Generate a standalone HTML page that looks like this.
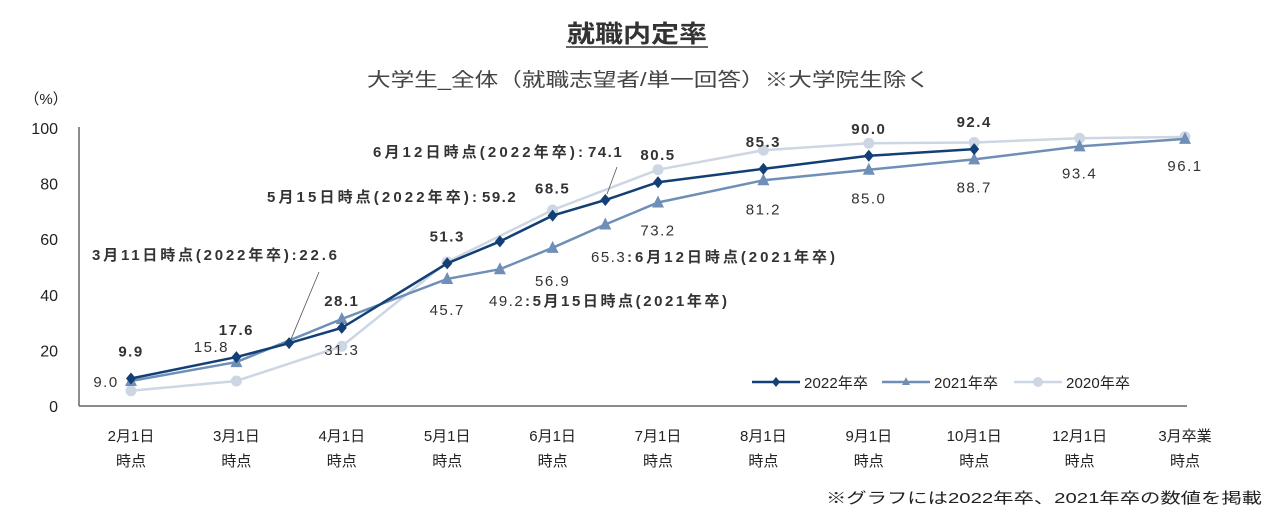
<!DOCTYPE html>
<html><head><meta charset="utf-8">
<style>
html,body{margin:0;padding:0;background:#fff;}
body{width:1280px;height:517px;overflow:hidden;font-family:"Liberation Sans","Noto Sans CJK JP",sans-serif;}
svg text{font-family:"Liberation Sans","Noto Sans CJK JP",sans-serif;}
</style></head>
<body>
<svg id="chart" width="1280" height="517" viewBox="0 0 1280 517" xmlns="http://www.w3.org/2000/svg">
<text x="567" y="42" font-size="24" font-weight="bold" fill="#333" textLength="140" lengthAdjust="spacingAndGlyphs">就職内定率</text>
<line x1="566" y1="47" x2="708" y2="47" stroke="#333" stroke-width="1.5"/>
<text x="367" y="86" font-size="19" fill="#444" textLength="563" lengthAdjust="spacingAndGlyphs">大学生_全体（就職志望者/単一回答）※大学院生除く</text>
<text x="46" y="104" text-anchor="middle" font-size="15" fill="#222">（%）</text>
<g id="axes"></g>
<g id="series"></g>
<g id="labels"></g>
<g id="legend"></g>
<text x="826" y="503" font-size="15" fill="#222" textLength="436" lengthAdjust="spacingAndGlyphs">※グラフには2022年卒、2021年卒の数値を掲載</text>
</svg>
<script>
const categories = ["2月1日|時点","3月1日|時点","4月1日|時点","5月1日|時点","6月1日|時点","7月1日|時点","8月1日|時点","9月1日|時点","10月1日|時点","12月1日|時点","3月卒業|時点"];
const yTicks = [0,20,40,60,80,100];
const pos2022 = [0,1,1.5,2,3,3.5,4,4.5,5,6,7,8];
const val2022 = [9.9,17.6,22.6,28.1,51.3,59.2,68.5,74.1,80.5,85.3,90.0,92.4];
const pos2021 = [0,1,2,3,3.5,4,4.5,5,6,7,8,9,10];
const val2021 = [9.0,15.8,31.3,45.7,49.2,56.9,65.3,73.2,81.2,85.0,88.7,93.4,96.1];
const pos2020 = [0,1,2,3,4,5,6,7,8,9,10];
const val2020 = [5.5,9.0,21.5,51.8,70.5,85.0,92.0,94.5,94.8,96.3,96.8];

const NS="http://www.w3.org/2000/svg";
const X0=131, DX=105.4, Y0=406, YS=2.78;
const xs=i=>X0+DX*i, ys=v=>Y0-v*YS;
function mk(tag,attrs,parent,text){const e=document.createElementNS(NS,tag);for(const k in attrs)e.setAttribute(k,attrs[k]);if(text!==undefined)e.textContent=text;parent.appendChild(e);return e;}
const axes=document.getElementById('axes'),series=document.getElementById('series'),labels=document.getElementById('labels'),legend=document.getElementById('legend');

let l=mk('line',{x1:79,y1:127,x2:79,y2:Y0,stroke:'#666','stroke-width':1.5},axes);


l=mk('line',{x1:79,y1:Y0,x2:1187,y2:Y0,stroke:'#666','stroke-width':1.5},axes);


yTicks.forEach(v=>{const t=mk('text',{x:58,y:ys(v)+6,'text-anchor':'end','font-size':16,fill:'#222'},axes,String(v));

});
categories.forEach((c,i)=>{const p=c.split('|');
const t=mk('text',{x:xs(i),y:441,'text-anchor':'middle','font-size':15,fill:'#222'},axes,p[0]);


const t2=mk('text',{x:xs(i),y:466,'text-anchor':'middle','font-size':15,fill:'#222'},axes,p[1]);

});

function drawSeries(pos,val,color,marker,name){
  const pts=pos.map((p,i)=>xs(p)+','+ys(val[i])).join(' ');
  const pl=mk('polyline',{points:pts,fill:'none',stroke:color,'stroke-width':2.5},series);
  
  
  pos.forEach((p,i)=>{const x=xs(p),y=ys(val[i]);let m;
    if(marker==='diamond')m=mk('polygon',{points:`${x},${y-6} ${x+5},${y} ${x},${y+6} ${x-5},${y}`,fill:color},series);
    else if(marker==='triangle')m=mk('polygon',{points:`${x},${y-7} ${x+6},${y+5} ${x-6},${y+5}`,fill:color},series);
    else m=mk('circle',{cx:x,cy:y,r:5.5,fill:color},series);
    
    });
}
drawSeries(pos2020,val2020,'#cdd7e4','circle','series-2020');
drawSeries(pos2021,val2021,'#6f8fb6','triangle','series-2021');
drawSeries(pos2022,val2022,'#123f75','diamond','series-2022');

function lab(x,y,txt,name,anchor){const t=mk('text',{x:x,y:y,'text-anchor':anchor||'middle','font-size':15,fill:'#333','letter-spacing':'1.5'},labels,txt);

return t;}
[0,1,3,4,6,8,9,10,11].forEach(i=>{const t=lab(xs(pos2022[i]),ys(val2022[i])-22,val2022[i].toFixed(1),'label-2022');t.setAttribute('font-weight','bold');});
[[0,6,-25],[1,-10,-25],[2,36,0],[3,36,0],[5,38,0],[7,33,0],[8,34,0],[9,34,0],[10,33,0],[11,32,0],[12,32,0]].forEach(([i,dy,dx])=>{lab(xs(pos2021[i])+dx,ys(val2021[i])+dy,val2021[i].toFixed(1),'label-2021');});
function call(x,y,txt,w){const t=lab(x,y,txt,'callout-label','start');t.setAttribute('font-weight','bold');t.setAttribute('letter-spacing','0');t.setAttribute('textLength',w);t.setAttribute('lengthAdjust','spacing');return t;}
call(92,260,'3月11日時点(2022年卒):'+val2022[2].toFixed(1),245);
let cl=mk('line',{x1:319,y1:272,x2:291,y2:ys(val2022[2])-4,stroke:'#555','stroke-width':0.8},labels);


call(267,202,'5月15日時点(2022年卒):',210);
lab(482,202,val2022[5].toFixed(1),'callout-value','start').setAttribute('font-weight','bold');
call(373,157,'6月12日時点(2022年卒):',210);
lab(588,157,val2022[7].toFixed(1),'callout-value','start').setAttribute('font-weight','bold');
cl=mk('line',{x1:617,y1:167,x2:607,y2:ys(val2022[7])-6,stroke:'#555','stroke-width':0.8},labels);


lab(489,306,val2021[4].toFixed(1),'callout-value-2021','start');
call(525,306,':5月15日時点(2021年卒)',202);
lab(591,262,val2021[6].toFixed(1),'callout-value-2021','start');
call(627,262,':6月12日時点(2021年卒)',208);

[['#123f75','diamond','2022年卒',752],['#6f8fb6','triangle','2021年卒',882],['#cdd7e4','circle','2020年卒',1014]].forEach(([c,m,t,x])=>{
  const ln=mk('line',{x1:x,y1:382,x2:x+48,y2:382,stroke:c,'stroke-width':2.5},legend);
  
  
  const cx=x+24;let mm;
  if(m==='diamond')mm=mk('polygon',{points:`${cx},377 ${cx+4},382 ${cx},387 ${cx-4},382`,fill:c},legend);
  else if(m==='triangle')mm=mk('polygon',{points:`${cx},377 ${cx+4},385 ${cx-4},385`,fill:c},legend);
  else mm=mk('circle',{cx:cx,cy:382,r:5,fill:c},legend);
  
  
  const tt=mk('text',{x:x+52,y:388,'font-size':15,fill:'#222',textLength:64,lengthAdjust:'spacing'},legend,t);
  
  
});
</script>
</body></html>
